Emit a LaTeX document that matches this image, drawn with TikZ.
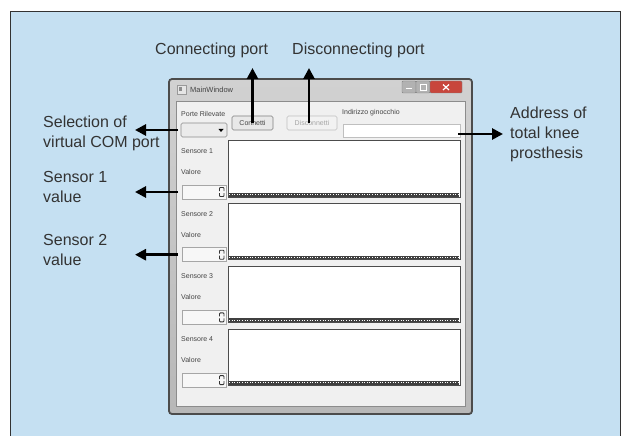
\documentclass[tikz,border=0pt]{standalone}
\usepackage{fontspec}
\setmainfont{Liberation Sans}
\usetikzlibrary{arrows.meta}
\definecolor{bgblue}{HTML}{C5E0F2}
\definecolor{txt}{HTML}{333333}
\definecolor{wtxt}{HTML}{444444}
\definecolor{client}{HTML}{F0F0F0}
\definecolor{closered}{HTML}{C8463C}
\tikzset{
  lab/.style={text=txt, font=\fontsize{16}{20}\selectfont, align=left, inner sep=0pt},
  wlab/.style={text=wtxt, font=\fontsize{7}{8}\selectfont, inner sep=0pt, anchor=west},
  arr/.style={line width=2.8pt, black, -{Triangle[length=11pt,width=11pt]}},
  box/.style={anchor=north west, inner sep=0pt, outer sep=0pt},
  plotbox/.style={box, fill=white, draw=black!70, line width=1pt, minimum width=232pt, minimum height=56pt},
  spinbox/.style={box, fill=black!3, draw=black!35, line width=0.6pt, minimum width=44pt, minimum height=14pt},
}
\begin{document}
\begin{tikzpicture}[x=1pt,y=-1pt]
\useasboundingbox (0,0) rectangle (622,436);
\fill[white] (0,0) rectangle (622,436);
% panel
\path[fill=bgblue, draw=black!80, line width=1pt] (10,12) rectangle (620,440);
% window frame
\shade[top color=black!18, bottom color=black!28, rounded corners=3pt] (169,79) rectangle (472,414);
\draw[black!70, line width=1.8pt, rounded corners=3pt] (169,79) rectangle (472,414);
\fill[client, draw=black!45, line width=0.6pt] (176,101) rectangle (465,406);
% title bar
\fill[black!10, draw=black!40, line width=0.5pt] (177,85) rectangle (186,94);
\fill[black!45] (179,87.5) rectangle (182,91.5);
\node[wlab, font=\fontsize{7.5}{9}\selectfont] (title) at (190,90) {MainWindow};
\fill[black!30, draw=black!50, line width=0.4pt, rounded corners=1pt] (402,81) rectangle (416,93);
\fill[black!30, draw=black!50, line width=0.4pt, rounded corners=1pt] (416,81) rectangle (430,93);
\fill[closered, draw=black!50, line width=0.4pt, rounded corners=1pt] (430,81) rectangle (462,93);
\draw[white, line width=1.2pt] (406,88.5) -- (412,88.5);
\draw[white, line width=0.9pt] (420,84.5) rectangle (426,90.5);
\draw[white, line width=1.2pt] (443,84.5) -- (449,90) (449,84.5) -- (443,90);
% top widgets
\node[wlab] (porte) at (181,114) {Porte Rilevate};
\node[box, fill=black!8, draw=black!45, line width=0.6pt, rounded corners=1.5pt, minimum width=46pt, minimum height=14pt] (combo) at (181,123) {};
\fill[black] (218.5,129) -- (223.5,129) -- (221,132) -- cycle;
\node[box, fill=black!9, draw=black!50, line width=0.6pt, rounded corners=1.5pt, minimum width=41pt, minimum height=14pt, text=wtxt, font=\fontsize{7}{8}\selectfont] (cbtn) at (232,116) {Connetti};
\node[box, fill=black!5, draw=black!25, line width=0.6pt, rounded corners=1.5pt, minimum width=50pt, minimum height=14pt, text=black!35, font=\fontsize{7}{8}\selectfont] (dbtn) at (287,116) {Disconnetti};
\node[wlab] (indir) at (342,113) {Indirizzo ginocchio};
\node[box, fill=white, draw=black!25, line width=0.6pt, minimum width=117pt, minimum height=13pt] (addr) at (343,124) {};
% sensor rows
\foreach \i [evaluate=\i as \dy using {62.7*(\i-1)}] in {1,2,3,4} {
  \node[wlab] (sens\i) at (181,151+\dy) {Sensore \i};
  \node[wlab] (val\i) at (181,172+\dy) {Valore};
  \node[spinbox] (spin\i) at (182,185+\dy) {};
  \draw[black!80, line width=0.9pt, rounded corners=0.8pt]
     (219.5,191+\dy) -- (219.5,187.5+\dy) -- (224,187.5+\dy) -- (224,191+\dy)
     (219.5,193+\dy) -- (219.5,196.5+\dy) -- (224,196.5+\dy) -- (224,193+\dy);
  \node[plotbox] (plot\i) at (228,141+\dy) {};
  \fill[black!75] (229,193+\dy) rectangle (459,196.5+\dy);
  \draw[white, line width=0.8pt, dash pattern=on 1pt off 1.6pt] (229,194.7+\dy) -- (459,194.7+\dy);
}
% annotation labels
\node[lab, anchor=west] (lconn) at (155,50) {Connecting port};
\node[lab, anchor=west] (ldis) at (292,50) {Disconnecting port};
\node[lab, anchor=west] (lsel) at (43,133) {Selection of\\virtual COM port};
\node[lab, anchor=west] (ls1) at (43,187) {Sensor 1\\value};
\node[lab, anchor=west] (ls2) at (43,250) {Sensor 2\\value};
\node[lab, anchor=west] (laddr) at (510,134) {Address of\\total knee\\prosthesis};
% arrows
\coordinate (tipconn) at (253,68);
\coordinate (tipdis) at (309,68);
\coordinate (tipsel) at (135,130);
\coordinate (tips1) at (135,192);
\coordinate (tips2) at (135,251);
\coordinate (tipaddr) at (503,134);
\draw[arr] (cbtn.center) -- (cbtn.center |- tipconn);
\draw[arr] ([xshift=-3pt]dbtn.center) -- (tipdis);
\draw[arr] ([xshift=-3pt]combo.west) -- (tipsel);
\draw[arr] ([xshift=-4pt]spin1.west) -- (tips1);
\draw[arr] ([xshift=-4pt]spin2.west) -- (spin2.west -| tips2);
\draw[arr] ([xshift=-2pt,yshift=-3.5pt]addr.east) -- (tipaddr);
\end{tikzpicture}
\end{document}
